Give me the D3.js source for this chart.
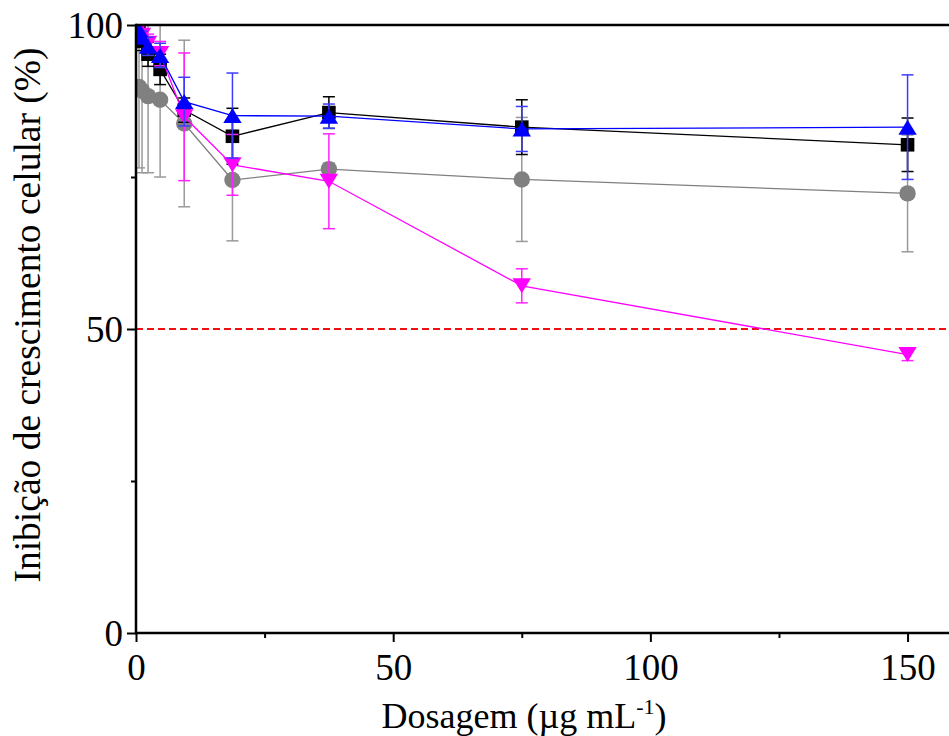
<!DOCTYPE html>
<html>
<head>
<meta charset="utf-8">
<script src="https://cdn.jsdelivr.net/npm/d3@7"></script>
<style>
  html, body { margin: 0; padding: 0; background: #fff; }
  svg { display: block; }
</style>
</head>
<body>
<svg id="chart" width="949" height="736"></svg>
<script>
// Dosage (µg/mL) — two-fold dilution series
const doses = [0.586, 1.172, 2.344, 4.688, 9.375, 18.75, 37.5, 75, 150];

// Growth inhibition (%) and standard deviation per series
const greyValues    = [89.8, 89.2, 88.3, 87.7, 83.8, 74.5, 76.3, 74.6, 72.3];
const greyErrors    = [13.3, 13.5, 12.6, 12.7, 13.7, 10.0, 1.0, 10.2, 9.6];
const blackValues   = [99.0, 97.3, 95.2, 92.7, 86.0, 81.7, 85.6, 83.2, 80.3];
const blackErrors   = [1.0, 1.5, 2.0, 2.5, 2.0, 4.6, 2.6, 4.5, 4.4];
const magentaValues = [99.5, 98.3, 97.0, 95.3, 84.9, 77.0, 74.3, 57.1, 45.8];
const magentaErrors = [1.0, 1.0, 1.5, 2.0, 10.5, 5.0, 7.8, 2.8, 1.0];
const blueValues    = [99.2, 98.0, 96.5, 95.0, 87.4, 85.1, 85.0, 82.9, 83.2];
const blueErrors    = [1.0, 1.0, 1.5, 2.0, 4.0, 7.0, 2.0, 3.7, 8.6];

// Axis ticks
const xMajorTicks = [0, 50, 100, 150];
const xMinorTicks = [25, 75, 125];
const yMajorTicks = [0, 50, 100];
const yMinorTicks = [25, 75];
const thresholdValue = 50;

const series = [
  { values: greyValues,    errors: greyErrors,    line: "#808080", bar: "#9a9a9a", fill: "#808080", shape: "circle" },
  { values: blackValues,   errors: blackErrors,   line: "#000000", bar: "#000000", fill: "#000000", shape: "square" },
  { values: magentaValues, errors: magentaErrors, line: "#ff00ff", bar: "#ff22ff", fill: "#ff00ff", shape: "down" },
  { values: blueValues,    errors: blueErrors,    line: "#0000ff", bar: "#3c3cff", fill: "#0000ff", shape: "up" }
];

const svg = d3.select("#chart");
const mLeft = 136, mTop = 25, mBottom = 633, mRight = 959;

const x = d3.scaleLinear().domain([0, 160]).range([mLeft, mRight]);
const y = d3.scaleLinear().domain([0, 100]).range([mBottom, mTop]);

svg.append("defs").append("clipPath").attr("id", "plot")
  .append("rect").attr("x", mLeft).attr("y", mTop)
  .attr("width", mRight - mLeft).attr("height", mBottom - mTop);

// 50% threshold
svg.append("line")
  .attr("x1", mLeft).attr("x2", mRight)
  .attr("y1", y(thresholdValue)).attr("y2", y(thresholdValue))
  .attr("stroke", "#ee1111").attr("stroke-width", 2)
  .attr("stroke-dasharray", "7,4");

const plot = svg.append("g").attr("clip-path", "url(#plot)");

const line = d3.line().x((d, i) => x(doses[i])).y(d => y(d));

series.forEach(s => {
  const g = plot.append("g");
  // connecting line
  g.append("path").datum(s.values)
    .attr("d", line).attr("fill", "none")
    .attr("stroke", s.line).attr("stroke-width", 1.3);
  // error bars
  const eb = g.selectAll(".eb").data(s.values).enter().append("g");
  eb.append("line")
    .attr("x1", (d, i) => x(doses[i])).attr("x2", (d, i) => x(doses[i]))
    .attr("y1", (d, i) => y(d + s.errors[i])).attr("y2", (d, i) => y(d - s.errors[i]))
    .attr("stroke", s.bar).attr("stroke-width", 1.5);
  [1, -1].forEach(sign => {
    eb.append("line")
      .attr("x1", (d, i) => x(doses[i]) - 6).attr("x2", (d, i) => x(doses[i]) + 6)
      .attr("y1", (d, i) => y(d + sign * s.errors[i])).attr("y2", (d, i) => y(d + sign * s.errors[i]))
      .attr("stroke", s.bar).attr("stroke-width", 1.5);
  });
  // markers
  const mk = g.selectAll(".mk").data(s.values).enter();
  if (s.shape === "circle") {
    mk.append("circle")
      .attr("cx", (d, i) => x(doses[i])).attr("cy", d => y(d))
      .attr("r", 8.2).attr("fill", s.fill);
  } else if (s.shape === "square") {
    mk.append("rect")
      .attr("x", (d, i) => x(doses[i]) - 6.8).attr("y", d => y(d) - 6.8)
      .attr("width", 13.6).attr("height", 13.6).attr("fill", s.fill);
  } else {
    const hw = 9.2, hh = 7.5;
    mk.append("path")
      .attr("d", (d, i) => {
        const cx = x(doses[i]), cy = y(d);
        return s.shape === "up"
          ? `M${cx},${cy - hh}L${cx + hw},${cy + hh}L${cx - hw},${cy + hh}Z`
          : `M${cx},${cy + hh}L${cx + hw},${cy - hh}L${cx - hw},${cy - hh}Z`;
      })
      .attr("fill", s.fill);
  }
});

// Axes
const fontFam = '"Liberation Serif", "Times New Roman", serif';

function styleAxis(g) {
  g.select(".domain").remove();
  g.selectAll(".tick line").attr("stroke", "#000").attr("stroke-width", 2);
  g.selectAll(".tick text").attr("font-size", 37).attr("fill", "#000")
    .attr("font-family", fontFam);
}

const xAxis = svg.append("g").attr("transform", `translate(0,${mBottom})`)
  .call(d3.axisBottom(x).tickValues(xMajorTicks).tickSize(9).tickPadding(12).tickFormat(d3.format("d")));
styleAxis(xAxis);
const xMinor = svg.append("g").attr("transform", `translate(0,${mBottom})`)
  .call(d3.axisBottom(x).tickValues(xMinorTicks).tickSize(5).tickFormat(""));
styleAxis(xMinor);

const yAxis = svg.append("g").attr("transform", `translate(${mLeft},0)`)
  .call(d3.axisLeft(y).tickValues(yMajorTicks).tickSize(9).tickPadding(4).tickFormat(d3.format("d")));
styleAxis(yAxis);
yAxis.selectAll(".tick text").attr("dy", "0.34em");
const yMinor = svg.append("g").attr("transform", `translate(${mLeft},0)`)
  .call(d3.axisLeft(y).tickValues(yMinorTicks).tickSize(5).tickFormat(""));
styleAxis(yMinor);

// frame lines: left, bottom, top
svg.append("line").attr("x1", mLeft).attr("x2", mLeft).attr("y1", mTop - 1.2).attr("y2", mBottom + 1.2)
  .attr("stroke", "#000").attr("stroke-width", 2.5);
svg.append("line").attr("x1", mLeft).attr("x2", mRight).attr("y1", mBottom).attr("y2", mBottom)
  .attr("stroke", "#000").attr("stroke-width", 2.5);
svg.append("line").attr("x1", mLeft).attr("x2", mRight).attr("y1", mTop).attr("y2", mTop)
  .attr("stroke", "#000").attr("stroke-width", 2.5);

// Axis titles
const xTitle = svg.append("text")
  .attr("x", 524).attr("y", 728)
  .attr("text-anchor", "middle")
  .attr("font-family", fontFam).attr("font-size", 36).attr("fill", "#000");
xTitle.append("tspan").text("Dosagem (µg mL");
xTitle.append("tspan").attr("dy", -14).attr("font-size", 22).text("-1");
xTitle.append("tspan").attr("dy", 14).text(")");

svg.append("text")
  .attr("transform", "translate(40,315) rotate(-90)")
  .attr("text-anchor", "middle")
  .attr("font-family", fontFam).attr("font-size", 37.5).attr("fill", "#000")
  .text("Inibição de crescimento celular (%)");
</script>
</body>
</html>
